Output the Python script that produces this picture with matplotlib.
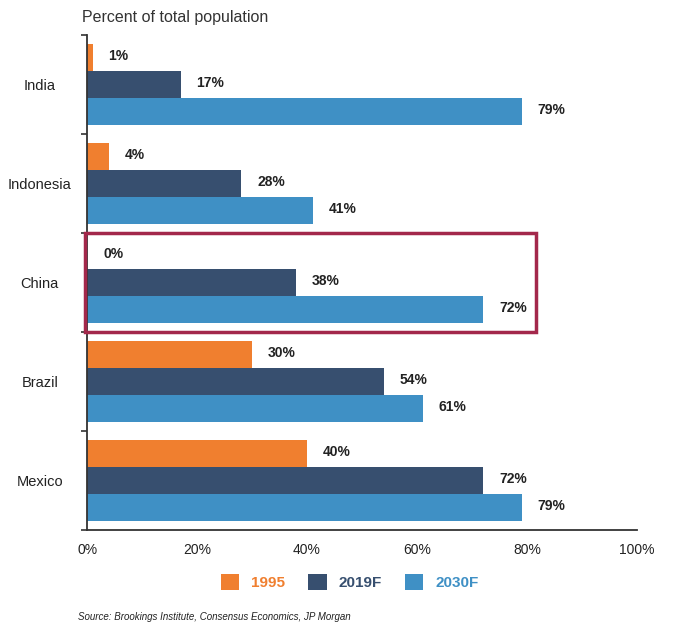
import matplotlib.pyplot as plt
import numpy as np
from matplotlib.patches import Rectangle

plt.rcParams['font.family'] = ['Liberation Sans', 'DejaVu Sans']

countries = ['India', 'Indonesia', 'China', 'Brazil', 'Mexico']
v1995 = [1, 4, 0, 30, 40]
v2019 = [17, 28, 38, 54, 72]
v2030 = [79, 41, 72, 61, 79]
series_names = ['1995', '2019F', '2030F']
colors = ['#F07F2F', '#374F6F', '#3F90C5']
xticks = [0, 20, 40, 60, 80, 100]

fig = plt.figure(figsize=(6.75, 6.24), dpi=100)
ax = fig.add_axes([0.129, 0.1506, 0.8147, 0.7933])

y = np.arange(len(countries))
h = 0.27
for off, vals, c, name in zip([-h, 0, h], [v1995, v2019, v2030], colors, series_names):
    bars = ax.barh(y + off, vals, height=h, color=c, label=name)
    for b, v in zip(bars, vals):
        ax.annotate(f'{v}%', (v, b.get_y() + b.get_height() / 2),
                    xytext=(11.5, 1), textcoords='offset points',
                    ha='left', va='center', fontsize=10, fontweight='bold',
                    color='#222222')

ax.set_xlim(0, 100)
ax.set_ylim(len(countries) - 0.5, -0.5)
ax.set_xticks(xticks)
ax.set_xticklabels([f'{t}%' for t in xticks], fontsize=10, color='#222222')
ax.tick_params(axis='x', length=0, pad=9)
ax.set_yticks(y)
ax.set_yticklabels(countries, fontsize=10.5, color='#222222', ha='center')
ax.tick_params(axis='y', length=0, pad=34)
ax.set_yticks(np.arange(len(countries) + 1) - 0.5, minor=True)
ax.tick_params(axis='y', which='minor', length=4, width=1.2, color='#333333')

for s in ['top', 'right']:
    ax.spines[s].set_visible(False)
for s in ['left', 'bottom']:
    ax.spines[s].set_color('#333333')
    ax.spines[s].set_linewidth(1.3)

# highlight China
ci = countries.index('China')
ax.add_patch(Rectangle((-0.3, ci - 0.5), 82.0, 1.0, fill=False,
                       edgecolor='#A3284B', linewidth=2.5, clip_on=False, zorder=5))

fig.text(0.121, 0.972, 'Percent of total population', fontsize=11.5,
         color='#333333', ha='left', va='center')

leg = ax.legend(loc='upper center', bbox_to_anchor=(0.478, -0.061), ncol=3,
                frameon=False, handlelength=1.2, handleheight=1.2,
                handletextpad=0.8, columnspacing=1.5,
                prop={'weight': 'bold', 'size': 11})
for t, c in zip(leg.get_texts(), colors):
    t.set_color(c)

fig.text(0.116, 0.003, 'Source: Brookings Institute, Consensus Economics, JP Morgan',
         fontsize=7, style='italic', color='#222222', ha='left', va='bottom')

plt.savefig('out.png', dpi=100)
